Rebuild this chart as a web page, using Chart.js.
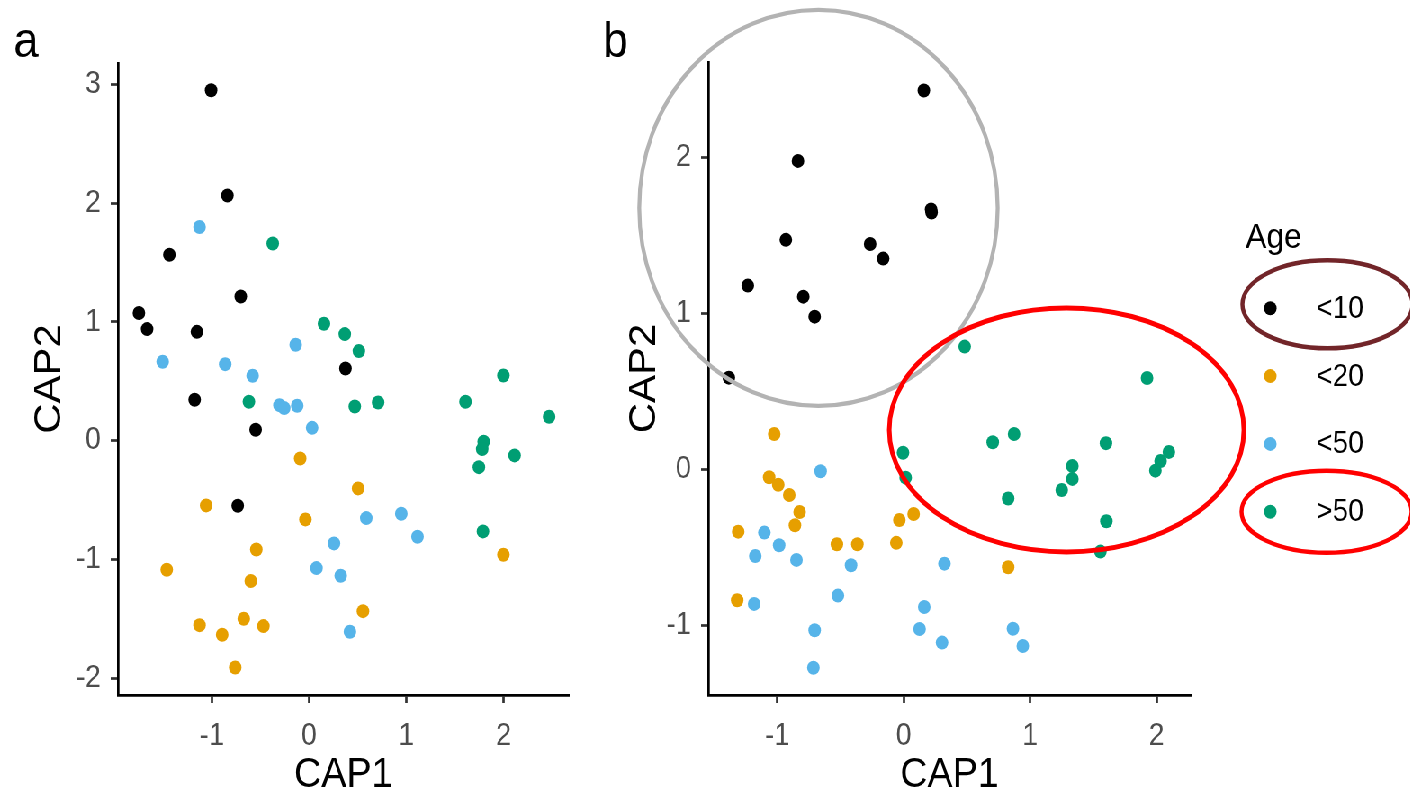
<!DOCTYPE html>
<html><head><meta charset="utf-8">
<script src="https://cdn.jsdelivr.net/npm/chart.js@4.4.1/dist/chart.umd.min.js"></script>
<style>
html,body{margin:0;padding:0;background:#fff;overflow:hidden;width:1410px;height:797px;}
#wrap{position:absolute;left:0;top:0;width:1567px;height:797px;transform:scaleX(0.9);transform-origin:0 0;}
#ca{position:absolute;left:0;top:0;}
#cb{position:absolute;left:667px;top:0;}
</style></head><body>
<div id="wrap"><canvas id="ca" width="667" height="797"></canvas><canvas id="cb" width="900" height="797"></canvas></div>
<script>
// ---------- data ----------
const groups = ['<10', '<20', '<50', '>50'];
const groupColors = ['#000000', '#E69F00', '#56B4E9', '#009E73'];

// panel a
const aBlackX  = [-1.008, -0.84, -1.437, -0.703, -1.75, -1.666, -1.154, 0.374, -1.177, -0.55, -0.734];
const aBlackY  = [2.95, 2.065, 1.566, 1.215, 1.075, 0.94, 0.917, 0.609, 0.345, 0.093, -0.547];
const aOrangeX = [-0.092, 0.504, -1.059, -0.038, -0.543, -1.464, -0.6, 1.998, 0.554, -1.127, -0.894, -0.672, -0.47, -0.76];
const aOrangeY = [-0.149, -0.401, -0.544, -0.662, -0.915, -1.086, -1.181, -0.96, -1.434, -1.552, -1.633, -1.498, -1.56, -1.908];
const aBlueX   = [-1.127, -1.506, -0.863, -0.581, -0.138, -0.305, -0.256, -0.122, 0.031, 0.588, 0.948, 1.115, 0.256, 0.076, 0.325, 0.42];
const aBlueY   = [1.799, 0.665, 0.645, 0.547, 0.808, 0.30, 0.275, 0.295, 0.109, -0.651, -0.614, -0.808, -0.864, -1.072, -1.136, -1.608];
const aGreenX  = [-0.374, 0.153, 0.367, 0.512, 1.998, -0.619, 0.47, 0.71, 1.608, 2.468, 1.795, 1.78, 2.113, 1.746, 1.788];
const aGreenY  = [1.661, 0.985, 0.898, 0.755, 0.55, 0.328, 0.289, 0.322, 0.328, 0.202, -0.008, -0.07, -0.123, -0.222, -0.763];

// panel b
const bBlackX  = [0.159, -0.837, 0.216, 0.22, -0.933, -0.266, -0.163, -1.234, -0.795, -0.705, -1.384];
const bBlackY  = [2.427, 1.976, 1.665, 1.645, 1.47, 1.444, 1.35, 1.177, 1.106, 0.978, 0.587];
const bOrangeX = [-1.025, -1.065, -0.993, -0.906, -0.824, -0.861, -1.31, -0.529, -0.367, -0.059, -0.035, 0.078, 0.826, -1.318];
const bOrangeY = [0.226, -0.051, -0.099, -0.165, -0.274, -0.359, -0.4, -0.481, -0.481, -0.472, -0.325, -0.287, -0.628, -0.84];
const bBlueX   = [-0.658, -1.103, -0.986, -1.175, -0.849, -0.417, 0.322, -0.521, -1.184, 0.162, -0.705, 0.125, 0.864, 0.303, 0.942, -0.715];
const bBlueY   = [-0.013, -0.406, -0.487, -0.556, -0.581, -0.615, -0.605, -0.81, -0.863, -0.883, -1.032, -1.024, -1.022, -1.111, -1.133, -1.272];
const bGreenX  = [0.482, 1.925, -0.006, 0.015, 0.704, 0.873, 0.826, 1.334, 1.334, 1.25, 1.6, 1.603, 1.556, 1.991, 2.032, 2.098];
const bGreenY  = [0.786, 0.585, 0.106, -0.054, 0.173, 0.226, -0.188, 0.021, -0.062, -0.133, 0.167, -0.333, -0.528, -0.009, 0.053, 0.111];

// tick labels
const aXTicks = [-1, 0, 1, 2];
const aYTicks = [-2, -1, 0, 1, 2, 3];
const bXTicks = [-1, 0, 1, 2];
const bYTicks = [-1, 0, 1, 2];

// ellipse annotations for panel b (data units: cx, cy, rx, ry)
const bEllipseGrey = [-0.675, 1.675, 1.418, 1.269];
const bEllipseRed  = [1.288, 0.252, 1.403, 0.782];

// ---------- helpers ----------
const FONT = "'Liberation Sans', Arial, sans-serif";
const zip = (xs, ys) => xs.map((x, i) => ({x: x, y: ys[i]}));
const PR = 7;

function datasets(sets) {
  return sets.map((s, i) => ({
    label: groups[i],
    data: zip(s[0], s[1]),
    backgroundColor: groupColors[i],
    borderColor: groupColors[i],
    borderWidth: 0,
    pointRadius: PR,
    pointHoverRadius: PR
  }));
}

function axisCommon() {
  return {
    type: 'linear',
    grid: {display: true, drawOnChartArea: false, drawTicks: true, tickLength: 8, tickWidth: 2.7, tickColor: '#333333'},
    border: {display: true, color: '#000000', width: 2.7}
  };
}

function scales(xr, yr, xt, yt, yW, xH, yTitlePad) {
  return {
    x: Object.assign(axisCommon(), {
      position: 'bottom', min: xr[0], max: xr[1],
      afterBuildTicks: s => { s.ticks = xt.map(v => ({value: v})); },
      afterFit: s => { s.height = xH; },
      ticks: {color: '#4d4d4d', font: {family: FONT, size: 31}, padding: 15, maxRotation: 0, autoSkip: false, callback: v => String(v)},
      title: {display: true, text: 'CAP1', color: '#000000', font: {family: FONT, size: 42, lineHeight: 1}, padding: {top: 0, bottom: 1}}
    }),
    y: Object.assign(axisCommon(), {
      position: 'left', min: yr[0], max: yr[1],
      afterBuildTicks: s => { s.ticks = yt.map(v => ({value: v})); },
      afterFit: s => { s.width = yW; },
      ticks: {color: '#4d4d4d', font: {family: FONT, size: 31}, padding: 11, autoSkip: false, callback: v => String(v)},
      title: {display: true, text: 'CAP2', color: '#000000', font: {family: FONT, size: 42, lineHeight: 1}, padding: {top: yTitlePad, bottom: 0}}
    })
  };
}

function panelLabel(text, x, y) {
  return {
    id: 'panelLabel',
    afterDraw(chart) {
      const ctx = chart.ctx;
      ctx.save();
      ctx.font = `50px ${FONT}`;
      ctx.fillStyle = '#000000';
      ctx.textBaseline = 'alphabetic';
      ctx.textAlign = 'left';
      ctx.fillText(text, x, y);
      ctx.restore();
    }
  };
}

const ellipsePlugin = {
  id: 'ellipses',
  afterDatasetsDraw(chart) {
    const ctx = chart.ctx, sx = chart.scales.x, sy = chart.scales.y;
    const draw = (e, color, w) => {
      const cx = sx.getPixelForValue(e[0]), cy = sy.getPixelForValue(e[1]);
      const rx = Math.abs(sx.getPixelForValue(e[0] + e[2]) - cx);
      const ry = Math.abs(sy.getPixelForValue(e[1] + e[3]) - cy);
      ctx.save();
      ctx.beginPath();
      ctx.ellipse(cx, cy, rx, ry, 0, 0, Math.PI * 2);
      ctx.strokeStyle = color; ctx.lineWidth = w; ctx.stroke();
      ctx.restore();
    };
    draw(bEllipseGrey, '#b3b3b3', 4.3);
    draw(bEllipseRed, '#ff0000', 5);
  }
};

const legendPlugin = {
  id: 'ageLegend',
  afterDraw(chart) {
    const ctx = chart.ctx;
    const lx = 717, px = 744.5, tx = 795.6, top = 308.3, step = 67.8;
    ctx.save();
    ctx.fillStyle = '#000000';
    ctx.font = `35px ${FONT}`;
    ctx.textAlign = 'left';
    ctx.textBaseline = 'alphabetic';
    ctx.fillText('Age', lx, 248);
    chart.data.datasets.forEach((ds, i) => {
      const y = top + i * step;
      ctx.beginPath();
      ctx.arc(px, y, PR, 0, Math.PI * 2);
      ctx.fillStyle = ds.backgroundColor;
      ctx.fill();
      ctx.fillStyle = '#000000';
      ctx.font = `31px ${FONT}`;
      ctx.textBaseline = 'middle';
      ctx.fillText(ds.label, tx, y + 1);
    });
    // highlight rings around the first and last legend keys
    ctx.lineWidth = 4.5;
    ctx.beginPath();
    ctx.ellipse(808, top - 4, 94.5, 44, 0, 0, Math.PI * 2);
    ctx.strokeStyle = '#722529';
    ctx.stroke();
    ctx.beginPath();
    ctx.ellipse(807, top + 3 * step, 94.5, 41, 0, 0, Math.PI * 2);
    ctx.strokeStyle = '#ff0000';
    ctx.stroke();
    ctx.restore();
  }
};

const baseOpts = {
  responsive: false,
  animation: false,
  devicePixelRatio: 1,
  events: [],
  plugins: {legend: {display: false}, tooltip: {enabled: false}, title: {display: false}}
};

new Chart(document.getElementById('ca'), {
  type: 'scatter',
  data: {datasets: datasets([[aBlackX, aBlackY], [aOrangeX, aOrangeY], [aBlueX, aBlueY], [aGreenX, aGreenY]])},
  options: Object.assign({}, baseOpts, {
    layout: {padding: {top: 63, right: 35, left: 0, bottom: 0}},
    scales: scales([-1.966, 2.67], [-2.14, 3.18], aXTicks, aYTicks, 131, 102, 34)
  }),
  plugins: [panelLabel('a', 15, 57)]
});

new Chart(document.getElementById('cb'), {
  type: 'scatter',
  data: {datasets: datasets([[bBlackX, bBlackY], [bOrangeX, bOrangeY], [bBlueX, bBlueY], [bGreenX, bGreenY]])},
  options: Object.assign({}, baseOpts, {
    layout: {padding: {top: 62, right: 244, left: 0, bottom: 0}},
    scales: scales([-1.547, 2.27], [-1.447, 2.61], bXTicks, bYTicks, 120, 102, 28)
  }),
  plugins: [ellipsePlugin, legendPlugin, panelLabel('b', 3, 57)]
});
</script>
</body></html>
